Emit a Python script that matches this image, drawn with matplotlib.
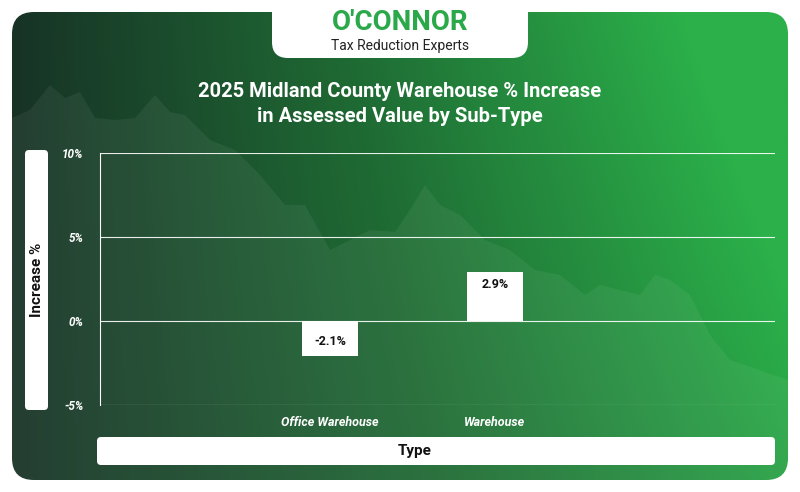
import numpy as np
import matplotlib
matplotlib.use("Agg")
import matplotlib.pyplot as plt
from matplotlib.patches import FancyBboxPatch, Polygon
from matplotlib.colors import LinearSegmentedColormap

categories = ["Office Warehouse", "Warehouse"]
values = [-2.1, 2.9]
yticks = [-5, 0, 5, 10]
ytick_labels = ["-5%", "0%", "5%", "10%"]
title = "2025 Midland County Warehouse % Increase\nin Assessed Value by Sub-Type"

W, H = 800, 492
fig = plt.figure(figsize=(8, 4.92), dpi=100)
fig.patch.set_facecolor("white")
bg = fig.add_axes([0, 0, 1, 1])
bg.set_xlim(0, W); bg.set_ylim(H, 0); bg.axis("off")

cmap = LinearSegmentedColormap.from_list("g", ["#173326", "#1f6b34", "#2bb04a"])
xx, yy = np.meshgrid(np.linspace(0, 1, 400), np.linspace(0, 1, 250))
grad = np.clip(0.85 * xx + 0.25 * (1 - yy) * xx + 0.05, 0, 1)
im = bg.imshow(grad, cmap=cmap, extent=[12, 788, 480, 12], aspect="auto", zorder=0)
clip = FancyBboxPatch((12, 12), 776, 468, boxstyle="round,pad=0,rounding_size=22",
                      transform=bg.transData, facecolor="none", edgecolor="none")
bg.add_patch(clip)
im.set_clip_path(clip)

mx = [12, 30, 50, 65, 80, 95, 115, 135, 155, 170, 185, 210, 235, 260, 285, 305, 330, 350, 370,
      395, 410, 425, 440, 460, 485, 510, 535, 560, 585, 600, 620, 640, 655, 670, 690, 710, 730, 788, 788, 12]
my = [118, 110, 85, 98, 92, 118, 120, 118, 95, 112, 115, 140, 150, 175, 205, 205, 250, 240, 230,
      232, 210, 185, 205, 215, 240, 250, 270, 275, 295, 285, 290, 295, 275, 280, 295, 335, 360, 380, 480, 480]
mp = Polygon(list(zip(mx, my)), closed=True, facecolor="white", alpha=0.06, edgecolor="none", zorder=1)
bg.add_patch(mp)
mp.set_clip_path(clip)

bg.add_patch(FancyBboxPatch((272, -20), 256, 78, boxstyle="round,pad=0,rounding_size=16",
                            facecolor="white", edgecolor="none", zorder=2))
bg.text(400, 22, "O'CONNOR", ha="center", va="center", fontsize=20, fontweight="bold",
        color="#2aa84a", fontfamily="Roboto", zorder=3)
bg.text(400, 46, "Tax Reduction Experts", ha="center", va="center", fontsize=10,
        color="#222222", fontfamily="Roboto", zorder=3)

bg.text(400, 104, title, ha="center", va="center", fontsize=14.5, fontweight="bold",
        color="white", fontfamily="Roboto", linespacing=1.4, zorder=3)

bg.add_patch(FancyBboxPatch((25, 150), 23, 260, boxstyle="round,pad=0,rounding_size=4",
                            facecolor="white", edgecolor="none", zorder=2))
bg.text(37, 280, "Increase %", rotation=90, ha="center", va="center", fontsize=11,
        fontweight="bold", color="#111111", fontfamily="Roboto", zorder=3)
bg.add_patch(FancyBboxPatch((97, 437), 678, 28, boxstyle="round,pad=0,rounding_size=4",
                            facecolor="white", edgecolor="none", zorder=2))
bg.text(415, 451, "Type", ha="center", va="center", fontsize=11, fontweight="bold",
        color="#111111", fontfamily="Roboto", zorder=3)

ppu = 165.0
x0, x1 = 100, 775
y_top, y_bot = 153, 405
ax = fig.add_axes([x0 / W, 1 - y_bot / H, (x1 - x0) / W, (y_bot - y_top) / H])
ax.patch.set_alpha(0)
ax.set_xlim((x0 - 330) / ppu, (x1 - 330) / ppu)
ax.set_ylim(-5, 10)
for s in ax.spines.values():
    s.set_visible(False)
ax.spines["left"].set_visible(True)
ax.spines["left"].set_color("white")
ax.set_yticks(yticks)
ax.set_yticklabels(ytick_labels, color="white", fontsize=8.5, fontweight="bold",
                   fontstyle="italic", fontfamily="Roboto")
ax.tick_params(axis="y", length=0, pad=12)
ax.grid(axis="y", color="white", linewidth=0.8, alpha=0.9)
ax.set_axisbelow(True)

xs = np.arange(len(categories))
ax.bar(xs, values, width=0.345, color="white", zorder=3)
ax.set_xticks(xs)
ax.set_xticklabels(categories, color="white", fontsize=9, fontweight="bold",
                   fontstyle="italic", fontfamily="Roboto")
ax.tick_params(axis="x", length=0, pad=8)
for x, v in zip(xs, values):
    ty = v - 0.75 if v > 0 else v + 0.9
    ax.text(x, ty, f"{v:.1f}%", ha="center", va="center", fontsize=9, fontweight="bold",
            color="#111111", fontfamily="Roboto", zorder=4)

fig.savefig("out.png", dpi=100)
